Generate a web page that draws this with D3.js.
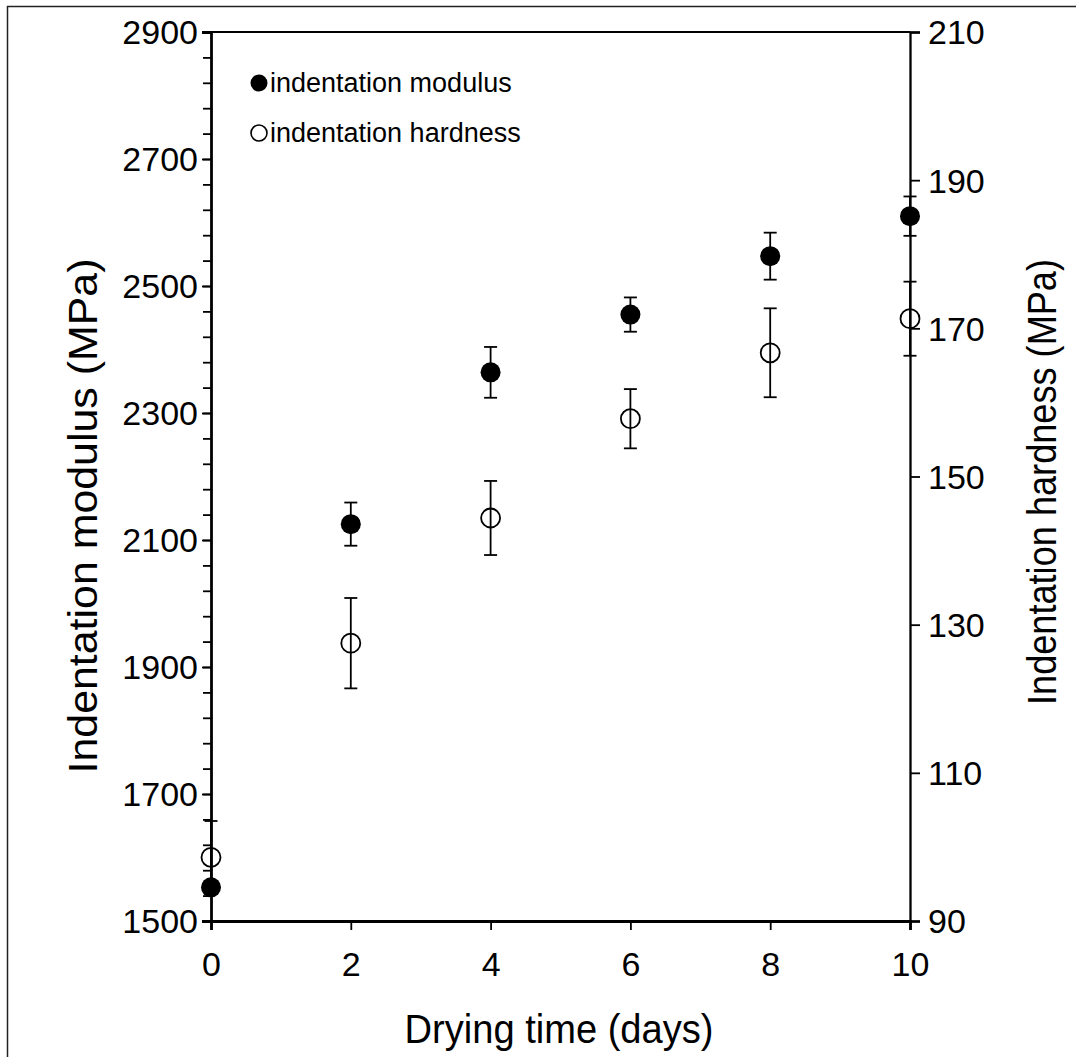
<!DOCTYPE html>
<html><head><meta charset="utf-8">
<script src="https://cdn.jsdelivr.net/npm/d3@7"></script>
<style>body{margin:0;background:#fff}svg{display:block}text{font-family:"Liberation Sans",Arial,sans-serif;fill:#000}</style>
</head><body><svg id="c" width="1076" height="1057"></svg>
<script>
const days = [0, 2, 4, 6, 8, 10];
const modulus = [1553, 2125, 2364, 2455, 2547, 2610];
const modulusErr = [10, 34, 40, 27, 37, 31];
const hardness = [98.6, 127.5, 144.4, 157.8, 166.7, 171.3];
const hardnessErr = [4.9, 6.1, 5.0, 4.0, 6.0, 5.0];
const xTicks = [0, 2, 4, 6, 8, 10];
const leftTicks = [1500, 1700, 1900, 2100, 2300, 2500, 2700, 2900];
const rightTicks = [90, 110, 130, 150, 170, 190, 210];

const svg = d3.select("#c");
const L = 211, R = 910, T = 32, B = 921;
const x = d3.scaleLinear().domain([0, 10]).range([L, R]);
const yL = d3.scaleLinear().domain([1500, 2900]).range([B, T]);
const yR = d3.scaleLinear().domain([90, 210]).range([B, T]);
const TICK_FS = "34px";

// outer frame (top & left only)
svg.append("line").attr("x1", 7).attr("x2", 1076).attr("y1", 6.5).attr("y2", 6.5).attr("stroke", "#222").attr("stroke-width", 1.5);
svg.append("line").attr("x1", 7.5).attr("x2", 7.5).attr("y1", 6).attr("y2", 1057).attr("stroke", "#222").attr("stroke-width", 1.5);

// top frame line
svg.append("line").attr("x1", L).attr("x2", R).attr("y1", T).attr("y2", T).attr("stroke", "#000").attr("stroke-width", 1.8);

// left axis
const minor = d3.range(1500, 2901, 40);
const gLm = svg.append("g").attr("transform", `translate(${L},0)`)
  .call(d3.axisLeft(yL).tickValues(minor).tickSize(8).tickFormat(""));
gLm.select(".domain").remove();
gLm.selectAll("line").attr("stroke-width", 1.8);
const gL = svg.append("g").attr("transform", `translate(${L},0)`)
  .call(d3.axisLeft(yL).tickValues(leftTicks).tickSize(9).tickPadding(4).tickFormat(d3.format("d")));
gL.select(".domain").attr("stroke-width", 2.8);
gL.selectAll("line").attr("stroke-width", 1.8);
gL.selectAll("text").style("font-size", TICK_FS).attr("dy", "0.35em");

// right axis
const gR = svg.append("g").attr("transform", `translate(${R},0)`)
  .call(d3.axisRight(yR).tickValues(rightTicks).tickSize(10).tickPadding(8).tickFormat(d3.format("d")));
gR.select(".domain").attr("stroke-width", 2.3);
gR.selectAll("line").attr("stroke-width", 1.8);
gR.selectAll("text").style("font-size", TICK_FS).attr("dy", "0.35em");

// bottom axis
const gB = svg.append("g").attr("transform", `translate(0,${B})`)
  .call(d3.axisBottom(x).tickValues(xTicks).tickSize(9).tickPadding(22).tickFormat(d3.format("d")));
gB.select(".domain").attr("stroke-width", 2.8);
gB.selectAll("line").attr("stroke-width", 1.8);
gB.selectAll("text").style("font-size", TICK_FS);

// axis titles
svg.append("text").attr("x", 559).attr("y", 1043).attr("text-anchor", "middle").style("font-size", "40px")
  .attr("textLength", 309).attr("lengthAdjust", "spacingAndGlyphs").text("Drying time (days)");
svg.append("text").attr("transform", `translate(97,516) rotate(-90)`).attr("text-anchor", "middle").style("font-size", "40px")
  .attr("textLength", 515).attr("lengthAdjust", "spacingAndGlyphs").text("Indentation modulus (MPa)");
svg.append("text").attr("transform", `translate(1056,482) rotate(-90)`).attr("text-anchor", "middle").style("font-size", "40px")
  .attr("textLength", 446).attr("lengthAdjust", "spacingAndGlyphs").text("Indentation hardness (MPa)");

// error bars helper
function errBars(vals, errs, y) {
  const g = svg.append("g").attr("stroke", "#000").attr("stroke-width", 1.8);
  days.forEach((d, i) => {
    const cx = x(d), y1 = y(vals[i] + errs[i]), y2 = y(vals[i] - errs[i]);
    g.append("line").attr("x1", cx).attr("x2", cx).attr("y1", y1).attr("y2", y2);
    g.append("line").attr("x1", cx - 6.5).attr("x2", cx + 6.5).attr("y1", y1).attr("y2", y1);
    g.append("line").attr("x1", cx - 6.5).attr("x2", cx + 6.5).attr("y1", y2).attr("y2", y2);
  });
}
errBars(hardness, hardnessErr, yR);
errBars(modulus, modulusErr, yL);

svg.append("g").selectAll("circle").data(days).join("circle")
  .attr("cx", d => x(d)).attr("cy", (d, i) => yR(hardness[i])).attr("r", 9.5)
  .attr("fill", "none").attr("stroke", "#000").attr("stroke-width", 1.8);
svg.append("g").selectAll("circle").data(days).join("circle")
  .attr("cx", d => x(d)).attr("cy", (d, i) => yL(modulus[i])).attr("r", 10)
  .attr("fill", "#000");

// legend
const leg = svg.append("g");
leg.append("circle").attr("cx", 259).attr("cy", 83).attr("r", 8.5).attr("fill", "#000");
leg.append("text").attr("x", 270).attr("y", 92).style("font-size", "27px").text("indentation modulus");
leg.append("circle").attr("cx", 259).attr("cy", 133).attr("r", 8).attr("fill", "none").attr("stroke", "#000").attr("stroke-width", 1.6);
leg.append("text").attr("x", 270).attr("y", 142).style("font-size", "27px").text("indentation hardness");
</script></body></html>
